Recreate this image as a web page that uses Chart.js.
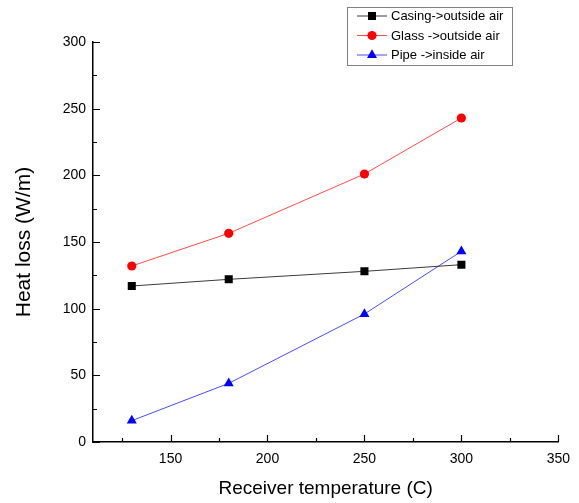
<!DOCTYPE html>
<html>
<head>
<meta charset="utf-8">
<script src="https://cdn.jsdelivr.net/npm/chart.js@4.4.0/dist/chart.umd.min.js"></script>
<style>
html,body{margin:0;padding:0;background:#fff;}
#wrap{width:579px;height:503px;position:relative;}
</style>
</head>
<body>
<div id="wrap"><canvas id="c" width="579" height="503"></canvas></div>
<script>
const temperatures = [130, 180, 250, 300];
const casingLoss = [117, 122, 128, 133];
const glassLoss = [132, 156.5, 201, 243];
const pipeLoss = [16, 44, 96, 143];
const seriesNames = ['Casing->outside air', 'Glass ->outside air', 'Pipe ->inside air'];
const xTicks = [150, 200, 250, 300, 350];
const xMinorTicks = [125, 175, 225, 275, 325];
const yTicks = [0, 50, 100, 150, 200, 250, 300];
const yMinorTicks = [25, 75, 125, 175, 225, 275];

const FONT = '"Liberation Sans", Arial, sans-serif';

function pts(vals){ return temperatures.map((t,i)=>({x:t, y:vals[i]})); }

const styles = [
  {line:'#3a3a3a', fill:'#000000', shape:'rect', r:5.7},
  {line:'#ff4a4a', fill:'#ff0000', shape:'circle', r:4.6},
  {line:'#4a4aff', fill:'#0000ff', shape:'triangle', r:5.8}
];
const seriesData = [casingLoss, glassLoss, pipeLoss];

function drawMarker(ctx, shape, x, y, r, color){
  ctx.save();
  ctx.fillStyle = color;
  ctx.beginPath();
  if (shape === 'rect'){
    const s = Math.SQRT1_2 * r;
    ctx.rect(x - s, y - s, 2*s, 2*s);
  } else if (shape === 'circle'){
    ctx.arc(x, y, r, 0, Math.PI*2);
  } else {
    for (let k=0;k<3;k++){
      const a = k*2*Math.PI/3;
      const px = x + Math.sin(a)*r, py = y - Math.cos(a)*r;
      if (k===0) ctx.moveTo(px,py); else ctx.lineTo(px,py);
    }
    ctx.closePath();
  }
  ctx.fill();
  ctx.restore();
}

const tickPlugin = {
  id:'inwardTicks',
  afterDraw(chart){
    const ctx = chart.ctx;
    const xs = chart.scales.x, ys = chart.scales.y;
    const area = chart.chartArea;
    ctx.save();
    ctx.strokeStyle = '#000';
    ctx.lineWidth = 1.2;
    ctx.beginPath();
    xTicks.forEach(v=>{ const px = Math.round(xs.getPixelForValue(v))+0.5; ctx.moveTo(px, area.bottom); ctx.lineTo(px, area.bottom-7); });
    xMinorTicks.forEach(v=>{ const px = Math.round(xs.getPixelForValue(v))+0.5; ctx.moveTo(px, area.bottom); ctx.lineTo(px, area.bottom-4); });
    yTicks.forEach(v=>{ const py = Math.round(ys.getPixelForValue(v))+0.5; ctx.moveTo(area.left, py); ctx.lineTo(area.left+7, py); });
    yMinorTicks.forEach(v=>{ const py = Math.round(ys.getPixelForValue(v))+0.5; ctx.moveTo(area.left, py); ctx.lineTo(area.left+4, py); });
    ctx.stroke();

    // legend
    const lx = 347.5, ly = 7.5, lw = 165, lh = 58;
    ctx.fillStyle = '#fff';
    ctx.fillRect(lx, ly, lw, lh);
    ctx.strokeStyle = '#808080';
    ctx.lineWidth = 1;
    ctx.strokeRect(lx, ly, lw, lh);
    ctx.font = '13px ' + FONT;
    ctx.textBaseline = 'middle';
    ctx.textAlign = 'left';
    const rows = [16, 35.5, 55];
    seriesNames.forEach((name, i)=>{
      const st = styles[i];
      const y = rows[i];
      ctx.strokeStyle = st.line;
      ctx.lineWidth = 1;
      ctx.beginPath();
      ctx.moveTo(357, y); ctx.lineTo(387, y);
      ctx.stroke();
      drawMarker(ctx, st.shape, 372, y, st.r, st.fill);
      ctx.fillStyle = '#000';
      ctx.fillText(name, 391, y + 0.5);
    });
    ctx.restore();
  }
};

new Chart(document.getElementById('c'), {
  type:'line',
  data:{
    datasets: seriesNames.map((name,i)=>({
      label:name,
      data:pts(seriesData[i]),
      borderColor:styles[i].line,
      borderWidth:1,
      backgroundColor:styles[i].fill,
      pointBackgroundColor:styles[i].fill,
      pointBorderColor:styles[i].fill,
      pointBorderWidth:0,
      pointStyle:styles[i].shape,
      pointRadius:styles[i].r,
      pointHoverRadius:styles[i].r,
      tension:0,
      fill:false
    }))
  },
  options:{
    responsive:false,
    animation:false,
    events:[],
    layout:{padding:{top:42, right:18, left:0, bottom:0}},
    plugins:{legend:{display:false}, tooltip:{enabled:false}},
    scales:{
      x:{
        type:'linear',
        min:110, max:350,
        afterFit(s){ s.height = 61; },
        afterBuildTicks(s){ s.ticks = xTicks.map(v=>({value:v})); },
        grid:{display:false, drawTicks:false},
        border:{display:true, color:'#000', width:1.5},
        ticks:{color:'#000', font:{family:FONT, size:14}, padding:9, maxRotation:0},
        title:{display:true, text:'Receiver temperature (C)', color:'#000', font:{family:FONT, size:19}, padding:{top:0,bottom:3}}
      },
      y:{
        type:'linear',
        min:0, max:300,
        afterFit(s){ s.width = 93; },
        afterBuildTicks(s){ s.ticks = yTicks.map(v=>({value:v})); },
        grid:{display:false, drawTicks:false},
        border:{display:true, color:'#000', width:1.5},
        ticks:{color:'#000', font:{family:FONT, size:14}, padding:7},
        title:{display:true, text:'Heat loss (W/m)', color:'#000', font:{family:FONT, size:21}, padding:{top:12,bottom:0}}
      }
    }
  },
  plugins:[tickPlugin]
});
</script>
</body>
</html>
